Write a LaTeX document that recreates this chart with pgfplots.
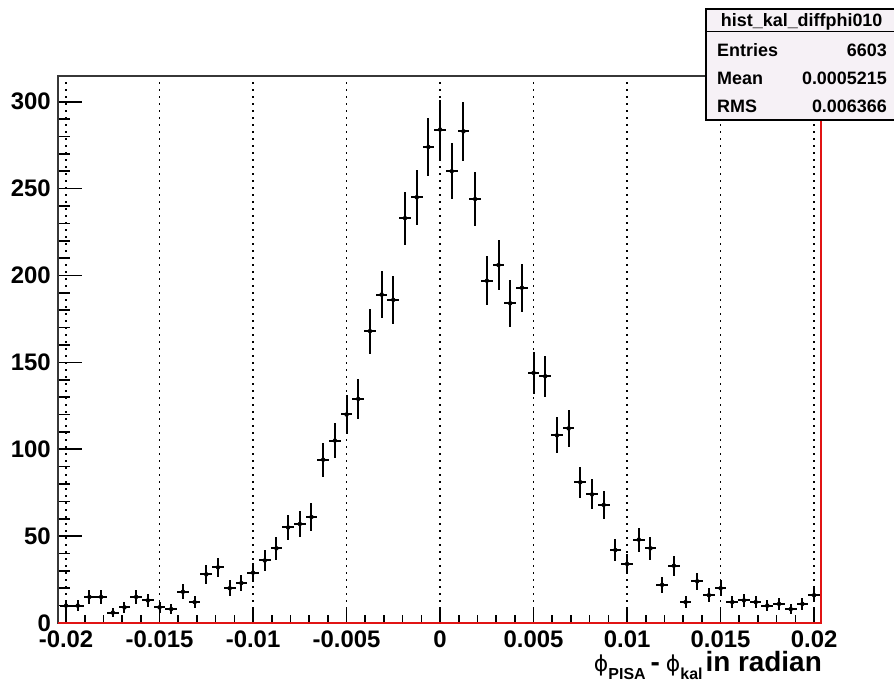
\documentclass[border=0pt]{standalone}
\usepackage{fontspec}
\setmainfont{Liberation Sans}
\newfontfamily\phifont{DejaVu Sans}
\usepackage{pgfplots}
\usepackage{pgfplotstable}
\pgfplotsset{compat=1.18}

\definecolor{statfill}{RGB}{246,241,246}
\definecolor{framegray}{RGB}{55,55,55}
\definecolor{framered}{RGB}{225,20,20}

% bin centre, counts (bin width 0.000625)
\pgfplotstableread{
x y
-0.02      10
-0.019375  10
-0.01875   15
-0.018125  15
-0.0175     6
-0.016875   9
-0.01625   15
-0.015625  13
-0.015      9
-0.014375   8
-0.01375   18
-0.013125  12
-0.0125    28
-0.011875  32
-0.01125   20
-0.010625  23
-0.01      29
-0.009375  36
-0.00875   43
-0.008125  55
-0.0075    57
-0.006875  61
-0.00625   94
-0.005625 105
-0.005    120
-0.004375 129
-0.00375  168
-0.003125 189
-0.0025   186
-0.001875 233
-0.00125  245
-0.000625 274
0         284
0.000625  260
0.00125   283
0.001875  244
0.0025    197
0.003125  206
0.00375   184
0.004375  193
0.005     144
0.005625  142
0.00625   108
0.006875  112
0.0075     81
0.008125   74
0.00875    68
0.009375   42
0.01       34
0.010625   48
0.01125    43
0.011875   22
0.0125     33
0.013125   12
0.01375    24
0.014375   16
0.015      20
0.015625   12
0.01625    13
0.016875   12
0.0175     10
0.018125   11
0.01875     8
0.019375   11
0.02       16
}\histdata

\pgfplotsset{
  rootframe/.style={
    scale only axis,
    width=763bp, height=547.3bp,
    xmin=-0.02043, xmax=0.02037, ymin=0, ymax=315,
    axis line style={draw=none},
    tick align=inside,
    every tick/.style={black, line width=1.6bp},
    /pgf/number format/assume math mode=true,
  },
}

\begin{document}
\begin{tikzpicture}

% y axis ticks and labels
\begin{axis}[rootframe, name=ax,
  xtick=\empty,
  ytick={0,50,100,150,200,250,300},
  yticklabels={0,50,100,150,200,250,300},
  minor y tick num=4,
  ytick pos=left,
  major tick length=24bp, minor tick length=12bp,
  yticklabel style={font=\fontsize{24}{24}\selectfont\bfseries, inner sep=0pt, anchor=east, xshift=-7bp},
]
\addplot[draw=none] coordinates {(0,0)};
\end{axis}

% histogram with x ticks and grid
\begin{axis}[rootframe, at={(ax.south west)}, anchor=south west,
  ytick=\empty,
  xtick={-0.02,-0.015,-0.01,-0.005,0,0.005,0.01,0.015,0.02},
  xticklabels={-0.02,-0.015,-0.01,-0.005,0,0.005,0.01,0.015,0.02},
  scaled x ticks=false,
  minor x tick num=4,
  xtick pos=bottom,
  major tick length=16bp, minor tick length=8bp,
  xmajorgrids,
  major grid style={black, line width=1.5bp, dash pattern=on 1.5bp off 5.5bp},
  xticklabel style={font=\fontsize{24}{24}\selectfont\bfseries, inner sep=0pt, anchor=north, yshift=-8bp},
]
\addplot[black, only marks, mark=none,
  error bars/.cd,
    x dir=both, x fixed=0.0003125,
    y dir=both, y explicit,
    error mark=none,
    error bar style={black, line width=2bp},
] table[x=x, y=y, y error expr={sqrt(\thisrow{y})}] {\histdata};
\end{axis}

% everything else is placed from the lower left corner of the frame
\begin{scope}[shift={(ax.south west)}, x=1bp, y=1bp]
% frame
\draw[framegray, line width=2bp] (0,-1) -- (0,547.3) -- (763,547.3);
\draw[framered, line width=2.4bp] (0,0) -- (763,0) -- (763,547.3);

% axis title
\node[anchor=base east, inner sep=0pt, font=\fontsize{28}{28}\selectfont\bfseries] at (764,-49)
  {{\fontsize{22}{22}\selectfont\mdseries\phifont ϕ}\raisebox{-8bp}{\fontsize{16}{16}\selectfont PISA}\kern5bp-\kern6bp{\fontsize{22}{22}\selectfont\mdseries\phifont ϕ}\raisebox{-8bp}{\fontsize{16}{16}\selectfont kal}\kern3bp in radian};

% statistics box
\fill[statfill] (647.7,503) rectangle (836,614);
\draw[black, line width=2bp] (836,614) -- (647.7,614) -- (647.7,503) -- (836,503);
\draw[black, line width=1.5bp] (647.7,591.3) -- (836,591.3);
\begin{scope}[font=\fontsize{18}{18}\selectfont\bfseries]
\node[anchor=center] at (743.7,601) {hist\_kal\_diffphi010};
\node[anchor=west, inner sep=0pt] at (659,573) {Entries};
\node[anchor=east, inner sep=0pt] at (829,573) {6603};
\node[anchor=west, inner sep=0pt] at (659,545) {Mean};
\node[anchor=east, inner sep=0pt] at (829,545) {0.0005215};
\node[anchor=west, inner sep=0pt] at (659,517) {RMS};
\node[anchor=east, inner sep=0pt] at (829,517) {0.006366};
\end{scope}

% page area
\pgfresetboundingbox
\useasboundingbox (-58,-59) rectangle (836,623);
\end{scope}
\end{tikzpicture}
\end{document}
